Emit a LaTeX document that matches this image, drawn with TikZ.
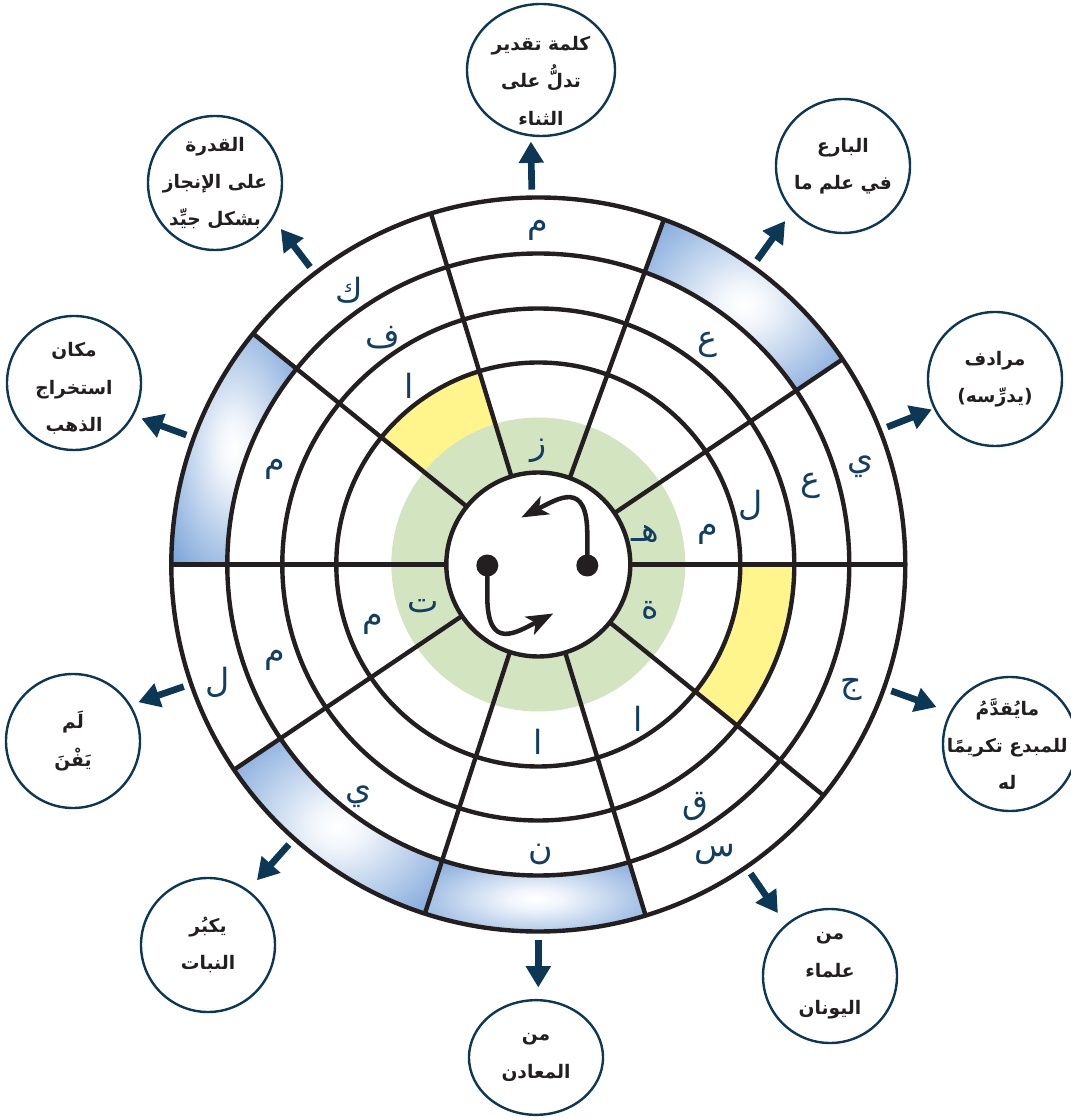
\documentclass[tikz,border=0pt]{standalone}
\usepackage{fontspec}
\usepackage{tikz}
\usetikzlibrary{arrows.meta}
\usetikzlibrary{shapes.geometric}
\newfontfamily\arabicfont[Script=Arabic]{DejaVu Sans}
\TeXXeTstate=1
\definecolor{mnavy}{HTML}{0C3856}
\definecolor{mink}{HTML}{231F20}
\definecolor{mletter}{HTML}{123E62}
\definecolor{mgreen}{HTML}{D3E4C1}
\definecolor{myellow}{HTML}{FFF58C}
\definecolor{mblue}{HTML}{5B8ED0}
\pgfdeclareradialshading{glow}{\pgfpoint{0bp}{0bp}}{color(0bp)=(white); color(6bp)=(white!92!mblue); color(42bp)=(mblue); color(50bp)=(mblue)}
\tikzset{ring/.style = {mink, line width = 3.3pt}}
\tikzset{letter/.style = {text = mletter, inner sep = 0, font = \arabicfont\fontsize{25}{30}\selectfont}}
\tikzset{bubble/.style = {draw = mnavy, line width = 1.8pt, fill = white, ellipse, inner sep = 0, minimum width = 100.5pt, minimum height = 100.5pt}}
\tikzset{bubtext/.style = {align = center, text = mink, inner sep = 0, font = \arabicfont\bfseries\fontsize{14}{28}\selectfont}}
\tikzset{outarrow/.style = {mnavy, line width = 5pt, -{Triangle[length = 16pt, width = 18pt]}}}
\tikzset{turn/.style = {mink, line width = 3.4pt, -{Stealth[length = 20pt, width = 15pt, inset = 5pt]}}}
\tikzset{dot/.style = {fill = mink, circle, inner sep = 0, minimum size = 16.5pt}}

\begin{document}
\begin{tikzpicture}[x = 0.75pt, y = 0.75pt]
      \useasboundingbox (-538.3, -554.5) rectangle (531.7, 564.5);

      \fill [myellow] (107:92) arc [start angle = 107, end angle = 141, radius = 92] -- (141:202) arc [start angle = 141, end angle = 107, radius = 202] -- cycle;
      \fill [mgreen] (0, 0) circle [radius = 147];
      \fill [myellow] (-39:202) arc [start angle = -39, end angle = 0, radius = 202] -- (0:256) arc [start angle = 0, end angle = -39, radius = 256] -- cycle;
      \shade [shading = glow] (34:311) arc [start angle = 34, end angle = 70, radius = 311] -- (70:367) arc [start angle = 70, end angle = 34, radius = 367] -- cycle;
      \shade [shading = glow] (141:311) arc [start angle = 141, end angle = 180, radius = 311] -- (180:367) arc [start angle = 180, end angle = 141, radius = 367] -- cycle;
      \shade [shading = glow] (214:311) arc [start angle = 214, end angle = 252, radius = 311] -- (252:367) arc [start angle = 252, end angle = 214, radius = 367] -- cycle;
      \shade [shading = glow] (252:311) arc [start angle = 252, end angle = 287, radius = 311] -- (287:367) arc [start angle = 287, end angle = 252, radius = 367] -- cycle;

      \draw [ring] (0, 0) circle [radius = 202];
      \draw [ring] (0, 0) circle [radius = 256];
      \draw [ring] (0, 0) circle [radius = 311];
      \draw [ring] (0, 0) circle [radius = 367];
      \foreach \a in {0, 34, 70, 107, 141, 180, 214, 252, 287, 321}
        \draw [ring] (\a:92) -- (\a:367);
      \filldraw [ring, fill = white] (0, 0) circle [radius = 92];

      \node [dot] (dl) at (-51, -1) {};
      \node [dot] (dr) at (49, -1) {};
      \draw [turn] (dr.center) -- (49, 30) .. controls (49, 85) and (20, 66) .. (-17, 47);
      \draw [turn] (dl.center) -- (-51, -32) .. controls (-51, -87) and (-22, -68) .. (15, -49);

      \node [letter] (s1a) at (15.8:111.5) {\beginR هـ\endR};
      \node [letter] (s1b) at (10.2:172) {م};
      \node [letter] (s1c) at (15.5:220.7) {ل};
      \node [letter] (s1d) at (16:283.4) {ع};
      \node [letter] (s1e) at (16.8:337) {ي};
      \node [letter] (s2d) at (52.3:277) {ع};
      \node [letter] (s3e) at (90:334) {م};
      \node [letter] (s3a) at (90:114) {ز};
      \node [letter] (s4e) at (124.6:333.4) {ك};
      \node [letter] (s4d) at (124.5:275) {ف};
      \node [letter] (s4c) at (125.9:220.8) {ا};
      \node [letter] (s5d) at (160.2:280) {م};
      \node [letter] (s6e) at (200.2:341.9) {ل};
      \node [letter] (s6d) at (200:280.5) {م};
      \node [letter] (s6b) at (200:176) {م};
      \node [letter] (s6a) at (199.7:122.3) {ت};
      \node [letter] (s7d) at (232.3:294) {ي};
      \node [letter] (s8d) at (270.4:290) {ن};
      \node [letter] (s8b) at (270:177.7) {ا};
      \node [letter] (s9e) at (301.3:339.7) {س};
      \node [letter] (s9d) at (303:289) {ق};
      \node [letter] (s9b) at (303:183.6) {ا};
      \node [letter] (s10e) at (338.2:337) {ج};
      \node [letter] (s10a) at (337.6:121.2) {ة};

      \node [bubble] (b1) at (456.7, 185.5) {};
      \node [bubble] (b2) at (304.7, 398.5) {};
      \node [bubble, minimum width = 111pt, minimum height = 99pt] (b3) at (2.7, 494.5) {};
      \node [bubble] (b4) at (-323.3, 381.5) {};
      \node [bubble] (b5) at (-464.3, 181.5) {};
      \node [bubble] (b6) at (-465.3, -176.5) {};
      \node [bubble] (b7) at (-330.3, -380.5) {};
      \node [bubble, minimum width = 100.5pt, minimum height = 86pt] (b8) at (-2.3, -493) {};
      \node [bubble] (b9) at (291.7, -411.5) {};
      \node [bubble] (b10) at (471.7, -179.5) {};

      \node [bubtext] (w1) at (b1) {\beginR مرادف\endR\\\beginR (يدرِّسه)\endR};
      \node [bubtext] (w2) at (b2) {\beginR البارع\endR\\\beginR في علم ما\endR};
      \node [bubtext] (w3) at ([yshift = -8pt]b3.center) {\beginR كلمة تقدير\endR\\\beginR تدلُّ على\endR\\\beginR الثناء\endR};
      \node [bubtext] (w4) at (b4) {\beginR القدرة\endR\\\beginR على الإنجاز\endR\\\beginR بشكل جيِّد\endR};
      \node [bubtext] (w5) at ([yshift = -4pt]b5.center) {\beginR مكان\endR\\\beginR استخراج\endR\\\beginR الذهب\endR};
      \node [bubtext] (w6) at (b6) {\beginR لَم\endR\\\beginR يَفْنَ\endR};
      \node [bubtext] (w7) at (b7) {\beginR يكبُر\endR\\\beginR النبات\endR};
      \node [bubtext] (w8) at (b8) {\beginR من\endR\\\beginR المعادن\endR};
      \node [bubtext] (w9) at (b9) {\beginR من\endR\\\beginR علماء\endR\\\beginR اليونان\endR};
      \node [bubtext] (w10) at ([xshift = -2pt]b10.center) {\beginR مايُقدَّمُ\endR\\\beginR للمبدع تكريمًا\endR\\\beginR له\endR};

      \coordinate (t1) at (21.5:375);   \coordinate (h1) at (21.5:423);
      \coordinate (t2) at (54.3:375);   \coordinate (h2) at (54.3:423);
      \coordinate (t3) at (91:375);     \coordinate (h3) at (91:423);
      \coordinate (t4) at (127.5:375);  \coordinate (h4) at (127.5:423);
      \coordinate (t5) at (159.8:375);  \coordinate (h5) at (159.8:423);
      \coordinate (t6) at (199:375);    \coordinate (h6) at (199:423);
      \coordinate (t7) at (228.3:375);  \coordinate (h7) at (228.3:423);
      \coordinate (t8) at (270:375);    \coordinate (h8) at (270:423);
      \coordinate (t9) at (304.5:375);  \coordinate (h9) at (304.5:423);
      \coordinate (t10) at (340.3:375); \coordinate (h10) at (340.3:423);
      \foreach \i in {1, ..., 10}
        \draw [outarrow] (t\i) -- (h\i);
\end{tikzpicture}
\end{document}
